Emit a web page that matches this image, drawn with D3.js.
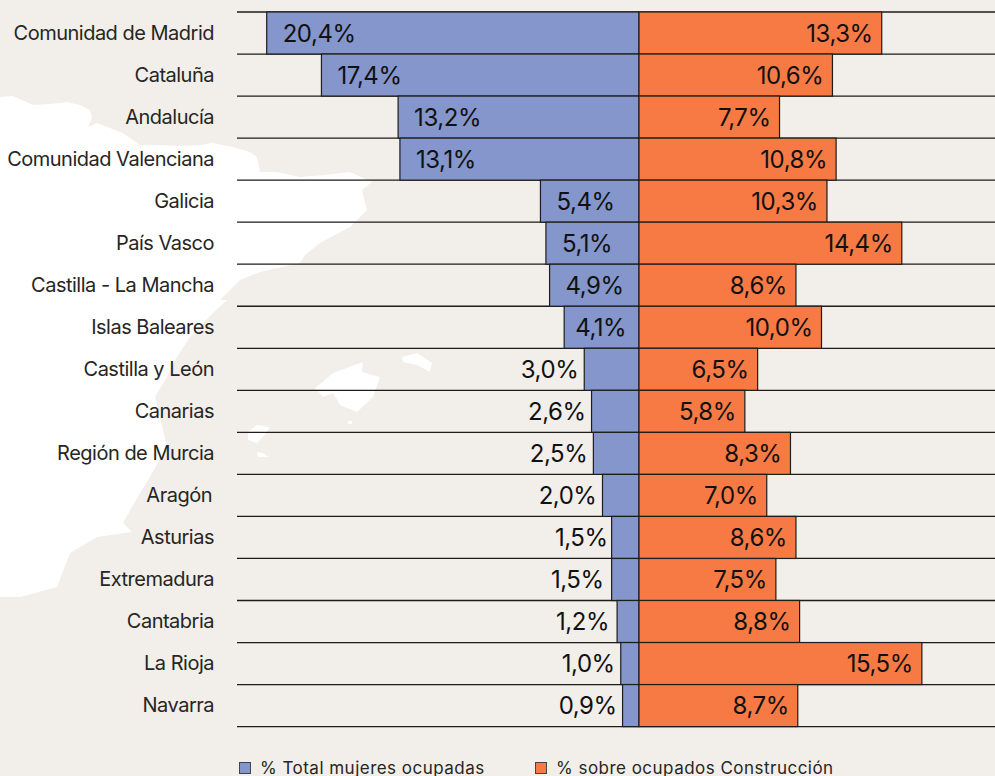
<!DOCTYPE html>
<html><head><meta charset="utf-8">
<script src="https://cdn.jsdelivr.net/npm/d3@7"></script>
<style>
html,body{margin:0;padding:0;background:#F2EEE9;overflow:hidden}
svg{display:block}
text{font-family:Inter,"Open Sans",sans-serif}
</style></head><body>
<svg id="c" width="995" height="776"></svg>
<script>
const regions = ["Comunidad de Madrid","Cataluña","Andalucía","Comunidad Valenciana","Galicia","País Vasco","Castilla - La Mancha","Islas Baleares","Castilla y León","Canarias","Región de Murcia","Aragón","Asturias","Extremadura","Cantabria","La Rioja","Navarra"];
const womenShare = [20.4,17.4,13.2,13.1,5.4,5.1,4.9,4.1,3.0,2.6,2.5,2.0,1.5,1.5,1.2,1.0,0.9];
const constructionShare = [13.3,10.6,7.7,10.8,10.3,14.4,8.6,10.0,6.5,5.8,8.3,7.0,8.6,7.5,8.8,15.5,8.7];
const seriesNames = ["% Total mujeres ocupadas","% sobre ocupados Construcción"];

const BLUE="#8496CB", ORANGE="#F77A45", BG="#F2EEE9", INK="#1d1d1b";
const svg=d3.select("#c");
const fmt=v=>v.toFixed(1).replace(".",",")+"%";

// decorative map silhouette behind the chart
const land="M0,97L13,96L22,100L33,105L50,104L67,102L80,105L90,110L92,118L88,127L97,123L110,128L123,133L140,145L157,145L180,146L200,145L213,143L233,147L250,152L257,157L260,172L277,172L300,177L325,175L350,172L372,182L362,190L367,210L350,227L320,243L305,255L300,263L260,272L240,280L220,300L227,300L213,313L190,337L175,360L167,377L155,397L160,417L167,447L150,477L140,493L123,523L132,532L97,537L70,553L57,587L20,597L0,597Z";
const isles=["M315,388L333,373L363,362L362,372L380,377L373,397L357,412L340,405L333,393L323,397Z",
"M402,357L417,353L432,363L430,372L417,365L403,362Z",
"M248,432L257,425L270,427L263,437L257,443L248,440Z",
"M257,452L263,453L268,457L258,457Z",
"M348,421L352,421L352,424L348,424Z"];
svg.selectAll("path.map").data([land,...isles]).join("path").attr("class","map").attr("d",d=>d).attr("fill","#fff");

const cx=639, pxPerUnit=18.25;
const xL=d3.scaleLinear().domain([0,20.4]).range([cx,cx-20.4*pxPerUnit]);
const xR=d3.scaleLinear().domain([0,15.5]).range([cx,cx+15.5*pxPerUnit]);
const y=d3.scaleBand().domain(regions).range([12,726.6]).padding(0);

// row rules
const rules=[...regions.map(r=>y(r)),726.6];
svg.selectAll("line.rule").data(rules).join("line").attr("class","rule")
  .attr("x1",237).attr("x2",995).attr("y1",d=>d).attr("y2",d=>d)
  .attr("stroke",INK).attr("stroke-width",1.3);

svg.append("g").selectAll("rect").data(regions).join("rect")
  .attr("x",(d,i)=>xL(womenShare[i])).attr("y",d=>y(d))
  .attr("width",(d,i)=>cx-xL(womenShare[i])).attr("height",y.bandwidth())
  .attr("fill",BLUE).attr("stroke",INK).attr("stroke-width",1.2);
svg.append("g").selectAll("rect").data(regions).join("rect")
  .attr("x",cx).attr("y",d=>y(d))
  .attr("width",(d,i)=>xR(constructionShare[i])-cx).attr("height",y.bandwidth())
  .attr("fill",ORANGE).attr("stroke",INK).attr("stroke-width",1.2);

// category labels
const ax=d3.axisLeft(y).tickSize(0).tickPadding(0);
const g=svg.append("g").attr("transform","translate(214,0.3)").call(ax);
g.select(".domain").remove();
g.selectAll("text").attr("font-size",20).attr("letter-spacing",-0.5).attr("fill","#262624").attr("font-family",'Inter,sans-serif')
  .attr("dx",d=>d==="Aragón"?-2:0);

// value labels (hand-placed offsets in the original layout)
const nudge={"Asturias":2,"Extremadura":-2,"Cantabria":-2};
svg.append("g").selectAll("text").data(regions).join("text")
  .attr("x",(d,i)=>(womenShare[i]>=4.5?xL(womenShare[i])+16:womenShare[i]>=4?xL(womenShare[i])+11:xL(womenShare[i])-6)+(nudge[d]||0))
  .attr("text-anchor",(d,i)=>womenShare[i]>=4?"start":"end")
  .attr("y",d=>y(d)+y.bandwidth()/2+8.5).attr("font-size",24).attr("letter-spacing",-0.45).attr("font-weight",400).attr("fill","#111")
  .text((d,i)=>fmt(womenShare[i]));
svg.append("g").selectAll("text").data(regions).join("text")
  .attr("x",(d,i)=>xR(constructionShare[i])-9).attr("text-anchor","end")
  .attr("y",d=>y(d)+y.bandwidth()/2+8.5).attr("font-size",24).attr("letter-spacing",-0.45).attr("font-weight",400).attr("fill","#111")
  .text((d,i)=>fmt(constructionShare[i]));

// legend
const lg=svg.append("g").selectAll("g").data(seriesNames).join("g").attr("transform",(d,i)=>`translate(${[239,535][i]},762)`);
lg.append("rect").attr("x",.5).attr("y",.5).attr("width",11).attr("height",11)
  .attr("fill",(d,i)=>[BLUE,ORANGE][i]).attr("stroke","#444").attr("stroke-width",1);
lg.append("text").attr("x",21).attr("y",11.5).attr("font-size",17).attr("letter-spacing",0.48).attr("fill","#262624").text(d=>d);
</script></body></html>
